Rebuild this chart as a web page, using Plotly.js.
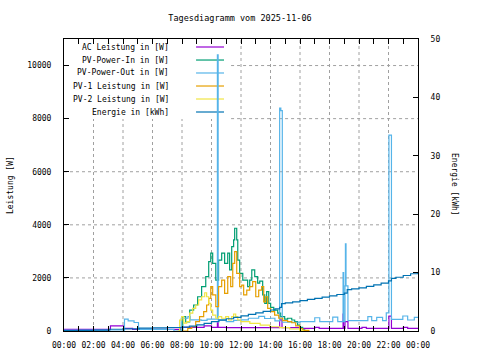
<!DOCTYPE html>
<html><head><meta charset="utf-8">
<script src="https://cdn.plot.ly/plotly-3.0.1.min.js"></script>
<style>html,body{margin:0;padding:0;background:#fff}#chart{width:480px;height:360px}</style>
</head><body><div id="chart"></div>
<script>
// time in hours of 2025-11-06
const seriesNames = ["AC Leistung in [W]", "PV-Power-In in [W]", "PV-Power-Out in [W]", "PV-1 Leistung in [W]", "PV-2 Leistung in [W]", "Energie in [kWh]"];
const xTickLabels = ["00:00","02:00","04:00","06:00","08:00","10:00","12:00","14:00","16:00","18:00","20:00","22:00","00:00"];

const acTime  = [0, 3.15, 4.05, 4.65, 7.9, 9.5, 10.0, 10.4, 10.45, 11.0, 12.0, 14.62, 14.78, 16.0, 17.0, 17.3, 18.92, 18.95, 19.05, 19.25, 20.2, 20.5, 22.03, 22.2, 23.0, 23.3, 24];
const acPower = [60, 190, 100, 60, 140, 190, 140, 310, 140, 130, 125, 420, 125, 100, 140, 100, 640, 100, 350, 100, 140, 100, 560, 100, 140, 100, 100];

const inTime  = [7.84, 8.05, 8.25, 8.52, 8.79, 9.06, 9.33, 9.61, 9.81, 9.95, 10.08, 10.29, 10.48, 10.69, 10.89, 11.10, 11.23, 11.37, 11.50, 11.57, 11.71, 11.78, 11.91, 12.12, 12.32, 12.45, 12.59, 12.73, 12.93, 13.13, 13.27, 13.47, 13.61, 13.74, 13.88, 14.01, 14.22, 14.49, 14.69, 14.96, 15.16, 15.44, 15.64, 15.84, 15.98, 16.18, 16.32];
const inPower = [40, 540, 340, 790, 980, 1290, 1670, 2050, 2610, 2930, 2550, 1920, 2670, 2930, 2550, 2930, 2300, 3180, 3430, 3870, 3430, 2670, 2170, 1920, 1920, 1670, 1920, 2300, 2050, 1800, 1880, 1360, 1040, 1480, 1040, 890, 790, 670, 540, 450, 480, 415, 350, 225, 140, 40, 0];

const outTime  = [0, 3.05, 4.1, 4.35, 4.75, 5.05, 7.45, 7.95, 8.4, 8.55, 9.3, 9.7, 10.4, 10.45, 11.0, 11.5, 12.0, 12.5, 13.2, 13.6, 14.0, 14.3, 14.62, 14.7, 14.8, 16.0, 17.0, 17.34, 18.22, 18.56, 18.92, 18.96, 19.05, 19.08, 19.12, 19.25, 20.6, 20.86, 21.2, 21.6, 21.85, 22.03, 22.2, 22.97, 23.3, 23.75, 24];
const outPower = [30, 0, 450, 380, 320, 60, 0, 480, 540, 420, 400, 450, 10400, 420, 350, 400, 420, 480, 550, 470, 480, 380, 8400, 8300, 330, 350, 500, 350, 525, 350, 2200, 350, 1700, 3280, 1700, 390, 540, 390, 515, 390, 680, 7380, 440, 565, 415, 515, 515];

const pv1Time  = [8.05, 8.39, 8.66, 8.93, 9.19, 9.47, 9.67, 9.81, 9.95, 10.08, 10.29, 10.48, 10.69, 10.89, 11.10, 11.30, 11.44, 11.57, 11.71, 11.91, 12.05, 12.18, 12.39, 12.59, 12.79, 13.00, 13.20, 13.40, 13.54, 13.67, 13.81, 14.01, 14.28, 14.56, 14.83, 15.16, 15.44, 15.71, 15.98, 16.18, 16.6];
const pv1Power = [0, 100, 160, 350, 540, 730, 980, 1230, 1670, 1360, 920, 1670, 1920, 1420, 2050, 1670, 2550, 2990, 2170, 1670, 1730, 1360, 1540, 1670, 1860, 1290, 1540, 1670, 1100, 1290, 855, 730, 600, 480, 390, 350, 310, 190, 90, 20, 0];

const pv2Time  = [7.70, 7.84, 7.98, 8.12, 8.32, 8.52, 8.73, 8.93, 9.13, 9.33, 9.54, 9.67, 9.81, 9.95, 10.08, 10.29, 10.48, 10.69, 10.96, 11.16, 11.37, 11.50, 11.64, 11.78, 11.98, 12.6, 13.3, 13.95, 14.62, 15.3, 15.98, 16.2];
const pv2Power = [0, 415, 540, 300, 350, 670, 855, 980, 1170, 1290, 1440, 1290, 1040, 790, 600, 480, 540, 480, 540, 415, 540, 640, 540, 415, 350, 290, 225, 160, 125, 75, 20, 0];

const energyTime = [0, 1, 2, 3.1, 4, 5.1, 6, 7, 8, 8.5, 9, 9.5, 10, 10.5, 11, 11.5, 12, 12.5, 13, 13.5, 14, 14.3, 14.62, 14.75, 15, 15.5, 16, 16.5, 17, 17.5, 18, 18.5, 19, 19.2, 19.5, 20, 20.5, 21, 21.5, 22, 22.2, 22.5, 23, 23.5, 24];
const energyKWh  = [0.05, 0.1, 0.15, 0.3, 0.35, 0.5, 0.55, 0.6, 0.65, 0.85, 1.05, 1.3, 1.6, 1.85, 2.1, 2.35, 2.6, 2.85, 3.1, 3.35, 3.6, 3.8, 4.05, 4.7, 4.8, 5.0, 5.2, 5.4, 5.6, 5.8, 6.0, 6.25, 6.5, 7.1, 7.2, 7.4, 7.65, 7.9, 8.2, 8.6, 9.0, 9.2, 9.5, 9.8, 10.05];

const colors = ["#9400D3", "#009E73", "#56B4E9", "#E69F00", "#F0E442", "#0072B2"];
const FONT = "DejaVu Sans Mono, monospace";

function tr(x, y, i, axis) {
  return {x: x, y: y, name: seriesNames[i], type: "scatter", mode: "lines",
    line: {color: colors[i], width: 1.2, shape: "hv"}, yaxis: axis || "y", showlegend: false, hoverinfo: "skip"};
}
const data = [
  tr(acTime, acPower, 0),
  tr(inTime, inPower, 1),
  tr(outTime, outPower, 2),
  tr(pv1Time, pv1Power, 3),
  tr(pv2Time, pv2Power, 4),
  tr(energyTime, energyKWh, 5, "y2")
];

const alias = {};
for (let i = 0; i < xTickLabels.length; i++) alias[String(i * 2)] = xTickLabels[i];

// grid (dashed), interrupted by the key box in the upper left
const keyRight = 0.472, keyBottom = 0.726;
const gridStyle = {color: "#a0a0a0", width: 1, dash: "3px,3px"};
const shapes = [];
for (let h = 2; h <= 22; h += 2) {
  const top = (h <= 10) ? keyBottom : 1;
  shapes.push({type: "line", xref: "x", yref: "paper", x0: h, x1: h, y0: 0, y1: top, line: gridStyle, layer: "below"});
}
for (let v = 2000; v <= 10000; v += 2000) {
  const left = (v / 11000 >= keyBottom - 0.002) ? keyRight : 0;
  shapes.push({type: "line", xref: "paper", yref: "y", x0: left, x1: 1, y0: v, y1: v, line: gridStyle, layer: "below"});
}

// key (gnuplot style: right-aligned text, sample line to the right)
const annotations = [];
const rowY = [0.9726, 0.928, 0.8836, 0.839, 0.7945, 0.75];
for (let i = 0; i < seriesNames.length; i++) {
  annotations.push({xref: "paper", yref: "paper", x: 0.302, y: rowY[i], xanchor: "right", yanchor: "middle",
    text: seriesNames[i], showarrow: false, font: {family: FONT, size: 8, color: "#000"}});
  shapes.push({type: "line", xref: "paper", yref: "paper", x0: 0.373, x1: 0.452, y0: rowY[i], y1: rowY[i],
    line: {color: colors[i], width: 1.2}, layer: "below"});
}
annotations.push({xref: "paper", yref: "paper", x: -0.1525, y: 0.5, text: "Leistung [W]", textangle: -90,
  showarrow: false, font: {family: FONT, size: 8, color: "#000"}, xanchor: "center", yanchor: "middle"});
annotations.push({xref: "paper", yref: "paper", x: 1.1045, y: 0.5, text: "Energie [kWh]", textangle: 90,
  showarrow: false, font: {family: FONT, size: 8, color: "#000"}, xanchor: "center", yanchor: "middle"});

const layout = {
  width: 480, height: 360,
  margin: {l: 64, r: 62, t: 39, b: 29, pad: 0},
  paper_bgcolor: "#fff", plot_bgcolor: "#fff",
  font: {family: FONT, size: 8, color: "#000"},
  title: {text: "Tagesdiagramm vom 2025-11-06", font: {family: FONT, size: 8.5, color: "#000"},
    x: 0.5, xref: "container", y: 0.95, yref: "container", yanchor: "middle"},
  xaxis: {range: [0, 24], tickmode: "linear", tick0: 0, dtick: 2, labelalias: alias,
    ticks: "inside", ticklen: 5, tickcolor: "#000", tickwidth: 1,
    minor: {dtick: 1, ticks: "inside", ticklen: 3, tickcolor: "#000", showgrid: false},
    showline: true, linecolor: "#000", linewidth: 1, mirror: "allticks",
    showgrid: false, zeroline: false,
    ticklabelstandoff: 6, tickfont: {family: FONT, size: 8}},
  yaxis: {range: [0, 11000], tickmode: "linear", tick0: 0, dtick: 2000, tickformat: "d",
    ticks: "inside", ticklen: 5, tickcolor: "#000", showline: true, linecolor: "#000", linewidth: 1, mirror: false,
    showgrid: false, zeroline: false,
    ticklabelstandoff: 10, tickfont: {family: FONT, size: 8}},
  yaxis2: {range: [0, 50], overlaying: "y", side: "right", tickmode: "linear", tick0: 0, dtick: 10,
    ticks: "inside", ticklen: 5, tickcolor: "#000", showline: true, linecolor: "#000", linewidth: 1,
    showgrid: false, zeroline: false, ticklabelstandoff: 10, tickfont: {family: FONT, size: 8}},
  shapes: shapes,
  annotations: annotations,
  showlegend: false
};
Plotly.newPlot("chart", data, layout, {displayModeBar: false, staticPlot: true});
</script>
</body></html>
